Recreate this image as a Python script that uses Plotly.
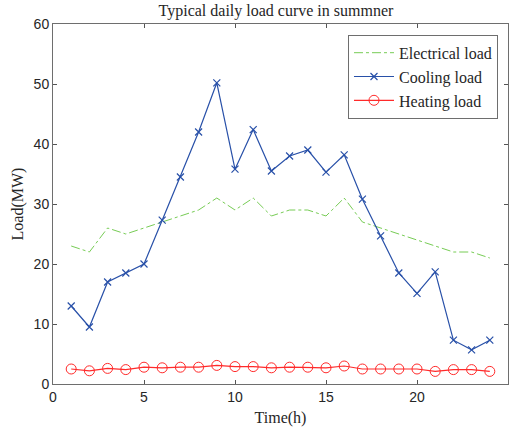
import plotly.graph_objects as go

hours = list(range(1, 25))
electrical = [23, 22, 26, 25, 26, 27, 28, 29, 31, 29, 31, 28, 29, 29, 28, 31, 27, 26, 25, 24, 23, 22, 22, 21]
cooling = [13, 9.5, 17, 18.5, 20, 27.3, 34.5, 42, 50.2, 35.8, 42.4, 35.5, 38, 39, 35.3, 38.2,
           30.8, 24.7, 18.5, 15.1, 18.7, 7.3, 5.7, 7.3]
heating = [2.5, 2.2, 2.6, 2.4, 2.8, 2.7, 2.8, 2.8, 3.1, 2.9, 2.9, 2.7, 2.8, 2.8, 2.7, 3.0,
           2.5, 2.5, 2.5, 2.5, 2.1, 2.4, 2.4, 2.1]
x_ticks = [0, 5, 10, 15, 20, 25]
y_ticks = [0, 10, 20, 30, 40, 50, 60]

serif = "Liberation Serif, Times New Roman"

fig = go.Figure()
fig.add_trace(go.Scatter(x=hours, y=electrical, mode="lines", name="Electrical load",
                         line=dict(color="#77cc55", width=1, dash="dashdot")))
fig.add_trace(go.Scatter(x=hours, y=cooling, mode="lines+markers", name="Cooling load",
                         line=dict(color="#2850a8", width=1.2),
                         marker=dict(symbol="x-thin", size=7, color="#2850a8",
                                     line=dict(color="#2850a8", width=1.2))))
fig.add_trace(go.Scatter(x=hours, y=heating, mode="lines+markers", name="Heating load",
                         line=dict(color="#ff2a2a", width=1.2),
                         marker=dict(symbol="circle-open", size=10, color="#ff2a2a",
                                     line=dict(color="#ff2a2a", width=1))))

axis_common = dict(showgrid=False, zeroline=False, showline=True, linecolor="#6e6e6e",
                   linewidth=1, mirror="ticks", ticks="inside", ticklen=4,
                   tickcolor="#555555",
                   tickfont=dict(family="Liberation Sans, Arial", size=14, color="#262626"))

fig.update_layout(
    width=515, height=433,
    margin=dict(l=53, r=7, t=24, b=49),
    paper_bgcolor="white", plot_bgcolor="white",
    title=dict(text="Typical daily load curve in summner", xref="paper", x=0.49, xanchor="center",
               y=0.99, yanchor="top",
               font=dict(family=serif, size=16, color="#262626")),
    xaxis=dict(range=[0, 25], tickvals=x_ticks,
               title=dict(text="Time(h)", standoff=8,
                          font=dict(family=serif, size=16, color="#262626")),
               **axis_common),
    yaxis=dict(range=[0, 60], tickvals=y_ticks,
               title=dict(text="Load(MW)", standoff=6,
                          font=dict(family=serif, size=16, color="#262626")),
               **axis_common),
    legend=dict(x=0.978, y=0.97, xanchor="right", yanchor="top",
                bgcolor="white", bordercolor="#6e6e6e", borderwidth=1,
                font=dict(family=serif, size=16, color="#262626"),
                tracegroupgap=0, itemwidth=40),
    showlegend=True,
)

fig.write_html("out.html")
